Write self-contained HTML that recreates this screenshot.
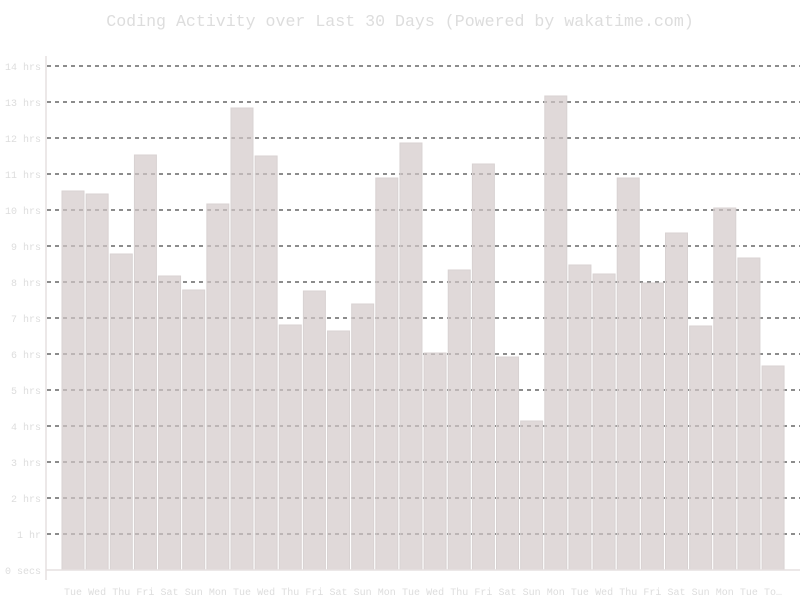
<!DOCTYPE html>
<html><head><meta charset="utf-8"><style>
html,body{margin:0;padding:0;background:#fff;}
svg{display:block;font-family:"Liberation Mono",monospace;}
</style></head><body>
<svg width="800" height="600" xmlns="http://www.w3.org/2000/svg">
<text x="400" y="26" text-anchor="middle" font-size="16.6" fill="#ddd">Coding Activity over Last 30 Days (Powered by wakatime.com)</text>
<g id="grid" stroke="#666" stroke-width="1.5" stroke-dasharray="4,4"></g>
<g id="ylab" font-size="10" fill="#ddd" text-anchor="end"></g>
<g id="bars"></g>
<g id="xlab" font-size="10" fill="#ddd" text-anchor="middle"></g>
<line x1="46" y1="56" x2="46" y2="580" stroke="#e6e0e0" stroke-width="1.5"/>
<line x1="46" y1="570" x2="800" y2="570" stroke="#e6e0e0" stroke-width="1.5"/>
</svg>
<script>
var ns="http://www.w3.org/2000/svg";
function el(t,a,p,txt){var e=document.createElementNS(ns,t);for(var k in a)e.setAttribute(k,a[k]);if(txt)e.textContent=txt;document.getElementById(p).appendChild(e);}
for(var h=0;h<=14;h++){var y=570-36*h;
 if(h>0)el('line',{x1:47,y1:y,x2:800,y2:y},'grid');
 el('text',{x:41,y:y+4},'ylab',h==0?'0 secs':(h==1?'1 hr':h+' hrs'));}
var tops=[191,194,254,155,276,290,204,108,156,325,291,331,304,178,143,353,270,164,357,421,96,265,274,178,283,233,326,208,258,366];
var days=['Tue','Wed','Thu','Fri','Sat','Sun','Mon'];
for(var i=0;i<30;i++){var x=62+i*24.14;
 el('rect',{x:x,y:tops[i],width:22,height:570-tops[i],fill:'rgb(210,200,200)','fill-opacity':0.69,stroke:'#d8d2d2','stroke-width':1},'bars');
 el('text',{x:x+11,y:595},'xlab',i==29?'To…':days[i%7]);}
</script>
</body></html>
